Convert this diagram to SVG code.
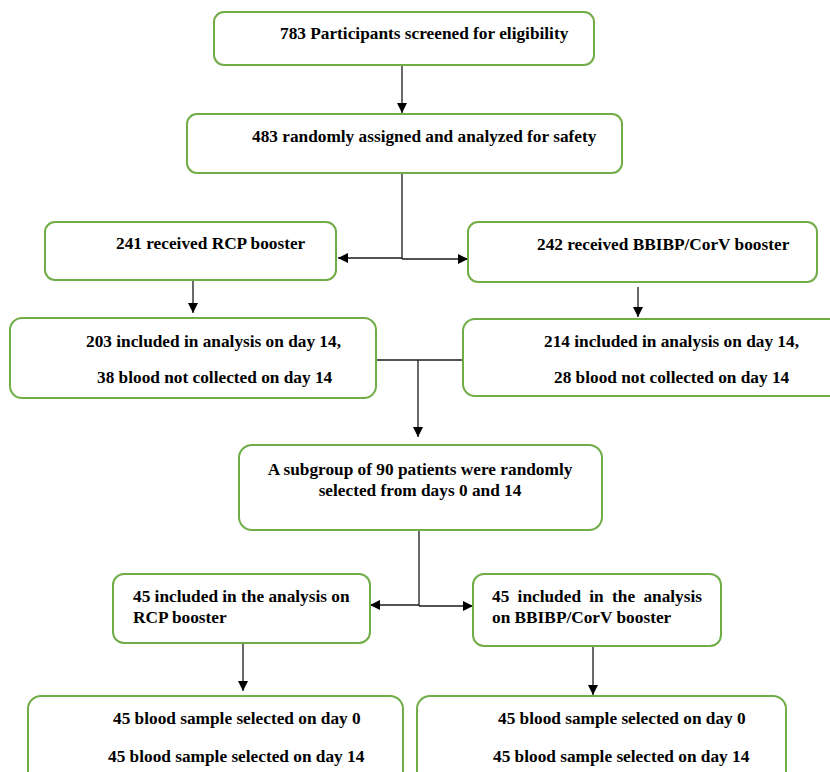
<svg xmlns="http://www.w3.org/2000/svg" width="830" height="772" viewBox="0 0 830 772">
<style>
.box{fill:#fff;stroke:#70AD47;stroke-width:2}
.t{font-family:"Liberation Serif","Times New Roman",serif;font-weight:bold;font-size:17.3px;fill:#000}
.c{fill:none;stroke:#1a1a1a;stroke-width:1.3}
</style>
<defs>
<marker id="ah" markerUnits="userSpaceOnUse" markerWidth="11" markerHeight="11" refX="10" refY="5" orient="auto">
<path d="M0,0 L10,5 L0,10 z" fill="#000"/>
</marker>
</defs>
<rect width="830" height="772" fill="#fff"/>
<g id="connectors">
<path class="c" d="M402,65 V113" marker-end="url(#ah)"/>
<path class="c" d="M402,173 V259"/>
<path class="c" d="M402,258 H338" marker-end="url(#ah)"/>
<path class="c" d="M402,259 H468" marker-end="url(#ah)"/>
<path class="c" d="M193,280 V313" marker-end="url(#ah)"/>
<path class="c" d="M638,287 V317" marker-end="url(#ah)"/>
<path class="c" d="M376,360 H463"/>
<path class="c" d="M418,360 V437" marker-end="url(#ah)"/>
<path class="c" d="M419,530 V606"/>
<path class="c" d="M419,605 H370" marker-end="url(#ah)"/>
<path class="c" d="M419,606 H473" marker-end="url(#ah)"/>
<path class="c" d="M243,643 V691" marker-end="url(#ah)"/>
<path class="c" d="M593,646 V695" marker-end="url(#ah)"/>
</g>
<g id="n1"><rect class="box" x="214" y="12" width="380" height="53" rx="10"/><text class="t" x="280" y="39">783 Participants screened for eligibility</text></g>
<g id="n2"><rect class="box" x="187" y="114" width="435" height="59" rx="10"/><text class="t" x="252" y="142">483 randomly assigned and analyzed for safety</text></g>
<g id="n3"><rect class="box" x="45" y="222" width="291" height="58" rx="10"/><text class="t" x="116" y="249">241 received RCP booster</text></g>
<g id="n4"><rect class="box" x="468" y="222" width="349" height="60" rx="10"/><text class="t" x="537" y="250">242 received BBIBP/CorV booster</text></g>
<g id="n5"><rect class="box" x="10" y="318" width="366" height="80" rx="12"/><text class="t" x="86" y="347">203 included in analysis on day 14,</text><text class="t" x="97" y="383">38 blood not collected on day 14</text></g>
<g id="n6"><rect class="box" x="463" y="319" width="380" height="77" rx="12"/><text class="t" x="544" y="347">214 included in analysis on day 14,</text><text class="t" x="554" y="383">28 blood not collected on day 14</text></g>
<g id="n7"><rect class="box" x="239" y="445" width="363" height="85" rx="13"/><text class="t" x="420" y="475" text-anchor="middle">A subgroup of 90 patients were randomly</text><text class="t" x="420" y="496" text-anchor="middle">selected from days 0 and 14</text></g>
<g id="n8"><rect class="box" x="113" y="574" width="257" height="69" rx="11"/><text class="t" x="133" y="602">45 included in the analysis on</text><text class="t" x="133" y="623">RCP booster</text></g>
<g id="n9"><rect class="box" x="473" y="574" width="248" height="72" rx="11"/><text class="t" x="492" y="602" word-spacing="4">45 included in the analysis</text><text class="t" x="492" y="623">on BBIBP/CorV booster</text></g>
<g id="n10"><rect class="box" x="28" y="696" width="375" height="90" rx="13"/><text class="t" x="113" y="724">45 blood sample selected on day 0</text><text class="t" x="108" y="762">45 blood sample selected on day 14</text></g>
<g id="n11"><rect class="box" x="417" y="696" width="369" height="90" rx="13"/><text class="t" x="498" y="724">45 blood sample selected on day 0</text><text class="t" x="493" y="762">45 blood sample selected on day 14</text></g>
</svg>
